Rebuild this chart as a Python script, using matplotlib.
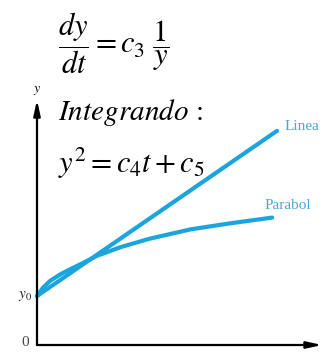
import numpy as np
import matplotlib.pyplot as plt

plt.rcParams['mathtext.fontset'] = 'stix'
plt.rcParams['font.family'] = ['Liberation Serif', 'DejaVu Serif']

# values (t in arbitrary units, y in units of y0)
t_lin = [0.0, 10.0]
y_lin = [1.0, 4.37]
t_par = [0.0, 0.25, 0.55, 1.0, 1.4, 1.9, 2.5, 3.5, 4.7, 6.4, 8.0, 9.8]
y_par = [1.0, 1.17, 1.31, 1.45, 1.55, 1.67, 1.82, 2.0, 2.17, 2.36, 2.48, 2.60]
y0 = 1.0
line_color = '#1ba4de'
label_color = '#45a9cf'

fig = plt.figure(figsize=(3.28, 3.6), dpi=100)
ax = fig.add_axes([37/328, 15/360, (322-37)/328, (345-100)/360])
ax.set_xlim(0, 11.875)
ax.set_ylim(0, 5.0)
ax.axis('off')

# axes with arrow heads
ax.annotate('', xy=(11.875, 0), xytext=(0, 0), annotation_clip=False,
            arrowprops=dict(arrowstyle='-|>,head_length=0.9,head_width=0.2', color='black', lw=1.6, shrinkA=0, shrinkB=0))
ax.annotate('', xy=(0, 5.0), xytext=(0, 0), annotation_clip=False,
            arrowprops=dict(arrowstyle='-|>,head_length=0.9,head_width=0.2', color='black', lw=1.6, shrinkA=0, shrinkB=0))

ax.plot(t_lin, y_lin, color=line_color, lw=3, solid_capstyle='round', solid_joinstyle='round', clip_on=False)
ax.plot(t_par, y_par, color=line_color, lw=3, solid_capstyle='round', solid_joinstyle='round', clip_on=False)

ax.text(10.3, y_lin[-1] + 0.08, 'Linea', color=label_color, fontsize=11, va='center', ha='left', clip_on=False)
ax.text(9.5, y_par[-1] + 0.25, 'Parabol', color=label_color, fontsize=11, va='center', ha='left', clip_on=False)

ax.text(-0.2, y0, r'$y_{\rm 0}$', fontsize=11, ha='right', va='center', color='#222222')
ax.text(-0.35, 0.05, '0', fontsize=11, ha='right', va='center', color='#444444')
ax.text(0, 5.2, r'$y$', fontsize=10, ha='center', va='center')

# equations
fig.text(58/328, 1 - 43/360, r'$\dfrac{dy}{dt} = c_3\;\dfrac{1}{y}$', fontsize=22, ha='left', va='center')
fig.text(58/328, 1 - 112/360, r'$Integrando\,:$', fontsize=21, ha='left', va='center')
fig.text(58/328, 1 - 163/360, r'$y^2 = c_4 t + c_5$', fontsize=22, ha='left', va='center')

fig.savefig('out.png', dpi=100)
